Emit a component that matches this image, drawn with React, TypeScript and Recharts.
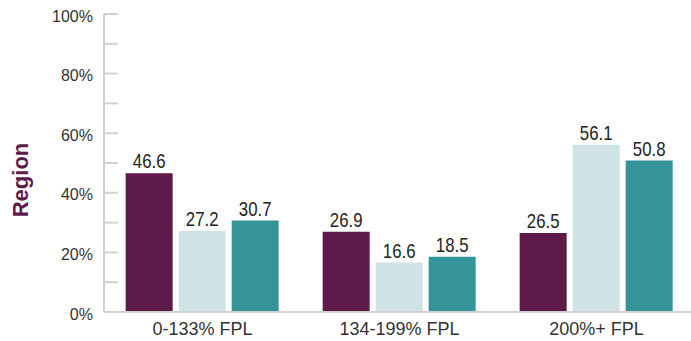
import React from 'react';
import { BarChart, Bar, XAxis, YAxis, LabelList } from 'recharts';

const categories = ['0-133% FPL', '134-199% FPL', '200%+ FPL'];
const seriesA = [46.6, 26.9, 26.5];
const seriesB = [27.2, 16.6, 56.1];
const seriesC = [30.7, 18.5, 50.8];
const yTicks = [0, 10, 20, 30, 40, 50, 60, 70, 80, 90, 100];

const COLORS = {
  a: '#5E1A49',
  b: '#CFE3E6',
  c: '#35939A',
};

const FONT = '"Liberation Sans", Arial, Helvetica, sans-serif';

const data = categories.map((name, i) => ({
  name,
  a: seriesA[i],
  b: seriesB[i],
  c: seriesC[i],
}));

// tick marks sit inside the plot, labels only every 20%
const YTick = (props: any) => {
  const { x, y, payload } = props;
  const major = payload.value % 20 === 0;
  return (
    <g>
      <line x1={x} x2={x + 14} y1={y} y2={y} stroke="#d0d0d0" strokeWidth={2} />
      {major && (
        <text x={x - 11} y={y} dy={7.5} textAnchor="end" fontSize={16} fill="#333" fontFamily={FONT}>
          {payload.value}%
        </text>
      )}
    </g>
  );
};

const ValueLabel = (props: any) => {
  const { x, y, width, value } = props;
  return (
    <text
      transform={`translate(${x + width / 2},${y - 5}) scale(0.84,1)`}
      textAnchor="middle"
      fontSize={20}
      fill="#222"
      fontFamily={FONT}
    >
      {value.toFixed(1)}
    </text>
  );
};

const RegionLabel = () => (
  <text
    transform="translate(28,180) rotate(-90)"
    textAnchor="middle"
    fontSize={22}
    fontWeight="bold"
    fill="#5E1A49"
    fontFamily={FONT}
  >
    Region
  </text>
);

export default function App() {
  return (
    <div style={{ position: 'absolute', left: 0, top: 0, width: 691, height: 341, overflow: 'hidden', background: '#fff' }}>
      <BarChart
        width={700}
        height={341}
        data={data}
        margin={{ top: 14, right: 5, left: 0, bottom: 0 }}
        barCategoryGap="11%"
        barGap={6}
      >
        <YAxis
          width={104}
          domain={[0, 100]}
          ticks={yTicks}
          interval={0}
          tickSize={0}
          tickMargin={0}
          tickLine={false}
          axisLine={{ stroke: '#d0d0d0', strokeWidth: 2 }}
          tick={<YTick />}
          label={<RegionLabel />}
        />
        <XAxis
          dataKey="name"
          height={29}
          tickLine={false}
          axisLine={{ stroke: '#d0d0d0', strokeWidth: 2 }}
          tick={{ fontSize: 18, fill: '#333', fontFamily: FONT }}
          tickMargin={4}
        />
        <Bar dataKey="a" fill={COLORS.a} isAnimationActive={false}>
          <LabelList dataKey="a" content={<ValueLabel />} />
        </Bar>
        <Bar dataKey="b" fill={COLORS.b} isAnimationActive={false}>
          <LabelList dataKey="b" content={<ValueLabel />} />
        </Bar>
        <Bar dataKey="c" fill={COLORS.c} isAnimationActive={false}>
          <LabelList dataKey="c" content={<ValueLabel />} />
        </Bar>
      </BarChart>
    </div>
  );
}
